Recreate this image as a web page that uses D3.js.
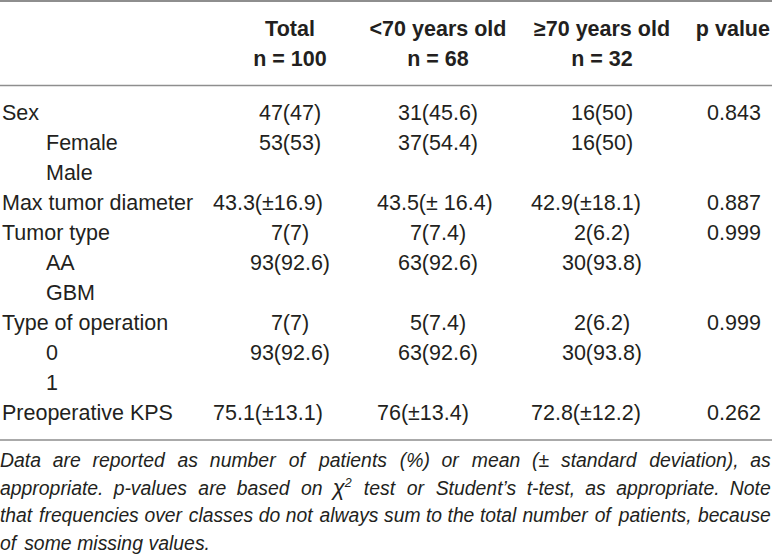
<!DOCTYPE html>
<html>
<head>
<meta charset="utf-8">
<script src="https://cdn.jsdelivr.net/npm/d3@7"></script>
<style>
  html, body { margin: 0; padding: 0; background: #fff; }
  svg { display: block; }
</style>
</head>
<body>
<div id="chart"></div>
<script>
// Table content
const columns = ["Total", "<70 years old", "≥70 years old", "p value"];
const groupSizes = ["n = 100", "n = 68", "n = 32", ""];
const rowLabels = ["Sex", "Female", "Male", "Max tumor diameter", "Tumor type", "AA", "GBM",
    "Type of operation", "0", "1", "Preoperative KPS"];
const rowLevel = [0, 1, 1, 0, 0, 1, 1, 0, 1, 1, 0];
const totalValues = ["47(47)", "53(53)", "", "43.3(±16.9)", "7(7)", "93(92.6)", "", "7(7)", "93(92.6)", "", "75.1(±13.1)"];
const youngValues = ["31(45.6)", "37(54.4)", "", "43.5(± 16.4)", "7(7.4)", "63(92.6)", "", "5(7.4)", "63(92.6)", "", "76(±13.4)"];
const oldValues = ["16(50)", "16(50)", "", "42.9(±18.1)", "2(6.2)", "30(93.8)", "", "2(6.2)", "30(93.8)", "", "72.8(±12.2)"];
const pValues = ["0.843", "", "", "0.887", "0.999", "", "", "0.999", "", "", "0.262"];
const footnoteLines = [
    "Data are reported as number of patients (%) or mean (± standard deviation), as",
    "appropriate. p-values are based on χ^2 test or Student’s t-test, as appropriate. Note",
    "that frequencies over classes do not always sum to the total number of patients, because",
    "of some missing values."
];

const width = 772, height = 558;
const textColor = '#231f20';
const ruleColor = '#8e8e8e';
const font = '"Liberation Sans", Arial, Helvetica, sans-serif';

const svg = d3.select('#chart')
    .append('svg')
    .attr('width', width)
    .attr('height', height);

// Column positions (centres and left edges used for the ± cells)
const colCenter = d3.scaleOrdinal().domain(columns).range([290, 438, 602, 734]);
const colLeft = d3.scaleOrdinal().domain(columns).range([213, 377, 531, 700]);

// Row baselines
const y = d3.scalePoint()
    .domain(d3.range(rowLabels.length))
    .range([120, 420]);

// Rules
const rules = [{y: 1, w: 2}, {y: 85.5, w: 1.5}, {y: 440, w: 1.5}];
svg.selectAll('.rule')
    .data(rules)
    .enter()
    .append('line')
    .attr('class', 'rule')
    .attr('x1', 0)
    .attr('x2', width)
    .attr('y1', d => d.y)
    .attr('y2', d => d.y)
    .attr('stroke', ruleColor)
    .attr('stroke-width', d => d.w);

// Header
const header = svg.append('g')
    .attr('font-family', font)
    .attr('font-size', '21.5px')
    .attr('font-weight', 'bold')
    .attr('fill', textColor);

header.selectAll('.col-title')
    .data(columns)
    .enter()
    .append('text')
    .attr('class', 'col-title')
    .attr('x', d => colCenter(d))
    .attr('y', 35.5)
    .attr('text-anchor', 'middle')
    .text(d => d);

header.selectAll('.col-n')
    .data(groupSizes.map((n, i) => ({n, col: columns[i]})))
    .enter()
    .append('text')
    .attr('class', 'col-n')
    .attr('x', d => colCenter(d.col))
    .attr('y', 65.5)
    .attr('text-anchor', 'middle')
    .text(d => d.n);

// keep header text inside the page
header.selectAll('text').each(function() {
    const bb = this.getBBox();
    if (bb.x + bb.width > width - 2) {
        d3.select(this).attr('x', +d3.select(this).attr('x') - (bb.x + bb.width - width + 2));
    }
});

// Body
const body = svg.append('g')
    .attr('font-family', font)
    .attr('font-size', '21.5px')
    .attr('fill', textColor);

body.selectAll('.row-label')
    .data(rowLabels)
    .enter()
    .append('text')
    .attr('class', 'row-label')
    .attr('x', (d, i) => rowLevel[i] ? 46 : 2)
    .attr('y', (d, i) => y(i))
    .text(d => d);

const cells = [];
[totalValues, youngValues, oldValues, pValues].forEach((vals, c) => {
    vals.forEach((v, r) => {
        if (v) cells.push({col: columns[c], row: r, value: v});
    });
});

body.selectAll('.cell')
    .data(cells)
    .enter()
    .append('text')
    .attr('class', 'cell')
    .attr('x', d => d.value.includes('±') ? colLeft(d.col) : colCenter(d.col))
    .attr('y', d => y(d.row))
    .attr('text-anchor', d => d.value.includes('±') ? 'start' : 'middle')
    .text(d => d.value);

// Footnote, justified like the source
const foot = svg.append('g')
    .attr('font-family', font)
    .attr('font-size', '19.4px')
    .attr('font-style', 'italic')
    .attr('fill', textColor);

const footY = d3.scaleLinear().domain([0, 1]).range([467, 494.7]);

footnoteLines.forEach((line, li) => {
    const words = line.split(' ');
    const g = foot.append('g');
    const nodes = words.map(w => {
        const t = g.append('text').attr('y', footY(li));
        if (w.includes('^')) {
            const [base, sup] = w.split('^');
            t.append('tspan').attr('font-size', '22px').text(base);
            t.append('tspan').attr('font-size', '12.5px').attr('dy', -8).text(sup);
        } else {
            t.text(w);
        }
        return t;
    });
    const widths = nodes.map(t => t.node().getBBox().width);
    const spaceW = 5.4;
    const natural = d3.sum(widths) + spaceW * (words.length - 1);
    const last = li === footnoteLines.length - 1;
    let gap = spaceW, scale = 1;
    if (!last) {
        const target = width - 1;
        if (natural <= target) {
            gap = (target - d3.sum(widths)) / (words.length - 1);
        } else {
            scale = target / natural;
        }
    }
    let x = 0;
    nodes.forEach((t, i) => {
        t.attr('x', x / scale);
        x += (widths[i] + gap) * scale;
    });
    if (scale !== 1) {
        g.attr('transform', `scale(${scale},1)`);
    }
});
</script>
</body>
</html>
